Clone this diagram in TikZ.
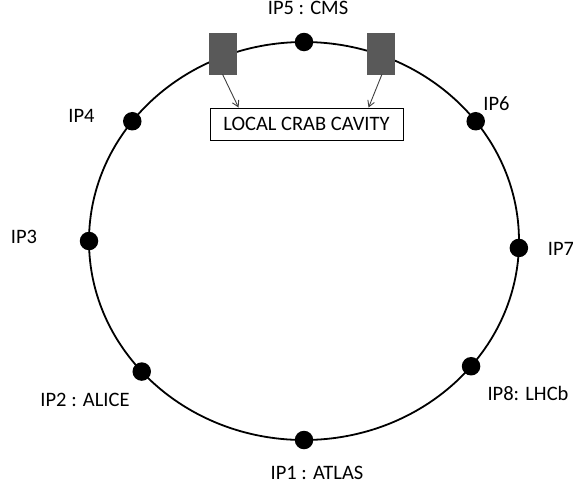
\documentclass[tikz,border=0pt]{standalone}
\usepackage{fontspec}
\setmainfont{Carlito}
\usetikzlibrary{calc}
\usetikzlibrary{arrows.meta}
\definecolor{cavgray}{HTML}{595959}
\definecolor{arrgray}{HTML}{404040}
\tikzstyle{ip} = [circle,fill=black,draw=none,inner sep=0pt,minimum size=18.5pt]
\tikzstyle{iplabel} = [anchor=base,inner sep=0pt,font=\fontsize{20.5}{24}\selectfont]
\tikzstyle{cavity} = [rectangle,fill=cavgray,draw=cavgray,inner sep=0pt,minimum width=27pt,minimum height=41pt]
\tikzstyle{crabbox} = [rectangle,draw=black,line width=0.9pt,fill=white,inner sep=0pt,minimum width=193pt,minimum height=32pt, font=\fontsize{20.5}{24}\selectfont]

\begin{document}
\begin{tikzpicture}[x=1pt,y=-1pt,
  ring/.style={line width=1.8pt},
  cavarrow/.style={draw=arrgray,line width=0.9pt,-{Straight Barb[length=6pt,width=7pt]}}]
\useasboundingbox (0,0) rectangle (573,493);
%\draw [help lines,step=50] (0,0) grid (573,493);

% Ring
\coordinate (ring) at (304,241);
\draw[ring] (ring) ellipse [x radius=215pt, y radius=199pt];

% Define nodes
\node[ip] (ip1) at ($(ring)+(270:215pt and 199pt)$) {};
\node[ip] (ip2) at ($(ring)+(221:215pt and 199pt)$) {};
\node[ip] (ip3) at ($(ring)+(180:215pt and 199pt)$) {};
\node[ip] (ip4) at ($(ring)+(143:215pt and 199pt)$) {};
\node[ip] (ip5) at ($(ring)+(90:215pt and 199pt)$)  {};
\node[ip] (ip6) at ($(ring)+(37:215pt and 199pt)$)  {};
\node[ip] (ip7) at ($(ring)+(358:215pt and 199pt)$) {};
\node[ip] (ip8) at ($(ring)+(321:215pt and 199pt)$) {};

\node[iplabel] (l1) at (317,479)   {IP1 : ATLAS};
\node[iplabel] (l2) at (85,406)    {IP2 : ALICE};
\node[iplabel] (l3) at (24,243)    {IP3};
\node[iplabel] (l4) at (81.5,122.3) {IP4};
\node[iplabel] (l5) at (308,14.5)  {IP5 : CMS};
\node[iplabel] (l6) at (496.5,110) {IP6};
\node[iplabel] (l7) at (561,255)   {IP7};
\node[iplabel] (l8) at (528,400)   {IP8: LHCb};

\node[cavity] (crabL) at (222.5,53.5) {};
\node[cavity] (crabR) at (380.5,53.5) {};
\node[crabbox] (lcc) at (306.5,124) {LOCAL CRAB CAVITY};

% Edges
\draw[cavarrow] (crabL.south) -- ($(lcc.north west)+(29,0)$);
\draw[cavarrow] ($(crabR.south)+(1.5,0)$) -- ($(lcc.north west)+(159,0)$);
\end{tikzpicture}
\end{document}
